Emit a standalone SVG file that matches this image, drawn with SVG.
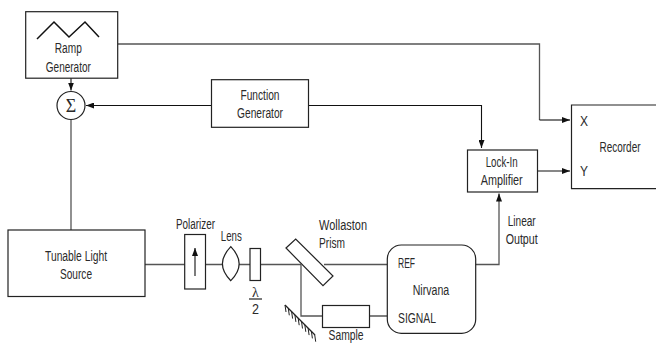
<svg xmlns="http://www.w3.org/2000/svg" width="656" height="343" viewBox="0 0 656 343">
<defs>
<marker id="ah" viewBox="0 0 8 6" refX="8" refY="3" markerWidth="8" markerHeight="6" markerUnits="userSpaceOnUse" orient="auto"><path d="M0 0L8 3L0 6Z" fill="#111"/></marker>
</defs>
<style>
.b{fill:#fff;stroke:#222;stroke-width:1.2}
.n{fill:none;stroke:#222;stroke-width:1.2}
.g{fill:none;stroke:#555;stroke-width:1.3}
.k{fill:none;stroke:#111;stroke-width:1.1}
text{font-family:"Liberation Sans",Arial,sans-serif;font-size:14px;fill:#2a2a2a;text-anchor:middle}
</style>
<rect width="656" height="343" fill="#fff"/>
<g id="connectors">
<path class="g" d="M118 44H539.500V120"/>
<path class="k" d="M539.500 120H570" marker-end="url(#ah)"/>
<path class="k" d="M71 78V90.500" marker-end="url(#ah)"/>
<path class="k" d="M211 105.500H86" marker-end="url(#ah)"/>
<path class="k" d="M308 105.500H481.500V148" marker-end="url(#ah)"/>
<path class="k" d="M537.500 171H570" marker-end="url(#ah)"/>
<path class="g" d="M71 119.500V230"/>
<path class="g" d="M145 264.500H185M205 264.500H222M239 264.500H250M260 264.500H301M324 264.500H387M301 264.500V316H322M369 316H387"/>
<path class="g" d="M475 264.500H499V198"/>
<path class="k" d="M499 200V193.500" marker-end="url(#ah)"/>
</g>
<g id="ramp-generator"><rect class="b" x="25.700" y="11.700" width="92" height="66.500"/><path d="M37 39L54 22L69 37L85 22L99 37" fill="none" stroke="#111" stroke-width="1.500"/><text x="68.300" y="52.500" textLength="27" lengthAdjust="spacingAndGlyphs">Ramp</text><text x="68.300" y="71.500" textLength="45" lengthAdjust="spacingAndGlyphs">Generator</text></g>
<g id="sum"><circle class="b" cx="71" cy="105.500" r="14"/><text x="71" y="111.500" style="font-family:'Liberation Serif',serif;font-size:18px;font-weight:normal">Σ</text></g>
<g id="function-generator"><rect class="b" x="211.500" y="79.700" width="97" height="47.600"/><text x="260" y="99.500" textLength="39" lengthAdjust="spacingAndGlyphs">Function</text><text x="260" y="117.500" textLength="46" lengthAdjust="spacingAndGlyphs">Generator</text></g>
<g id="lock-in"><rect class="b" x="467.500" y="150" width="70" height="42"/><text x="501.700" y="167" textLength="32" lengthAdjust="spacingAndGlyphs">Lock-In</text><text x="501.700" y="185" textLength="42" lengthAdjust="spacingAndGlyphs">Amplifier</text></g>
<g id="recorder"><path class="n" d="M656 105H571.500V188.700H656"/><text x="584" y="125.500" textLength="8" lengthAdjust="spacingAndGlyphs">X</text><text x="584" y="176" textLength="8" lengthAdjust="spacingAndGlyphs">Y</text><text x="620" y="151.500" textLength="41" lengthAdjust="spacingAndGlyphs">Recorder</text></g>
<g id="light-source"><rect class="b" x="8" y="230" width="137" height="66.500"/><text x="76" y="260.500" textLength="62" lengthAdjust="spacingAndGlyphs">Tunable Light</text><text x="76" y="279" textLength="32" lengthAdjust="spacingAndGlyphs">Source</text></g>
<g id="polarizer"><rect class="b" x="184.700" y="234.500" width="20.800" height="54.500"/><path class="k" d="M195 276V248" marker-end="url(#ah)"/><text x="195.500" y="229" textLength="39" lengthAdjust="spacingAndGlyphs">Polarizer</text></g>
<g id="lens"><path class="b" d="M230.800 246.700Q247.500 264 230.800 280.700Q214 264 230.800 246.700Z"/><text x="231.300" y="240.700" textLength="21" lengthAdjust="spacingAndGlyphs">Lens</text></g>
<g id="half-wave"><rect class="b" x="250" y="248.500" width="10.500" height="32"/><text x="255.500" y="297" style="font-family:'Liberation Serif',serif;font-size:14px">λ</text><path class="n" d="M249 299H262"/><text x="255.500" y="314" textLength="7" lengthAdjust="spacingAndGlyphs">2</text></g>
<g id="prism"><path class="b" d="M286 248L295.700 239L333 276L323 285.700Z"/><text x="343" y="230" textLength="48" lengthAdjust="spacingAndGlyphs">Wollaston</text><text x="332" y="247.700" textLength="26" lengthAdjust="spacingAndGlyphs">Prism</text></g>
<g id="mirror"><path class="n" d="M285 305L315 335"/><path d="M285 305l1 7M288.300 308.300l1 7M291.600 311.600l1 7M294.900 314.900l1 7M298.200 318.200l1 7M301.500 321.500l1 7M304.800 324.800l1 7M308.100 328.100l1 7M311.400 331.400l1 7M314.700 334.700l1 7" fill="none" stroke="#222" stroke-width="1"/></g>
<g id="sample"><rect class="b" x="322.500" y="305.500" width="47" height="22"/><text x="346" y="340" textLength="35" lengthAdjust="spacingAndGlyphs">Sample</text></g>
<g id="nirvana"><rect class="b" x="387.300" y="245" width="88.400" height="88.300" rx="14"/><text x="398" y="267.700" textLength="17" lengthAdjust="spacingAndGlyphs" style="text-anchor:start">REF</text><text x="412.700" y="295" textLength="36.500" lengthAdjust="spacingAndGlyphs" style="text-anchor:start">Nirvana</text><text x="398" y="322.700" textLength="38" lengthAdjust="spacingAndGlyphs" style="text-anchor:start">SIGNAL</text></g>
<g id="linear-output"><text x="521.700" y="225.700" textLength="28" lengthAdjust="spacingAndGlyphs">Linear</text><text x="521.700" y="243.700" textLength="32" lengthAdjust="spacingAndGlyphs">Output</text></g>
</svg>
